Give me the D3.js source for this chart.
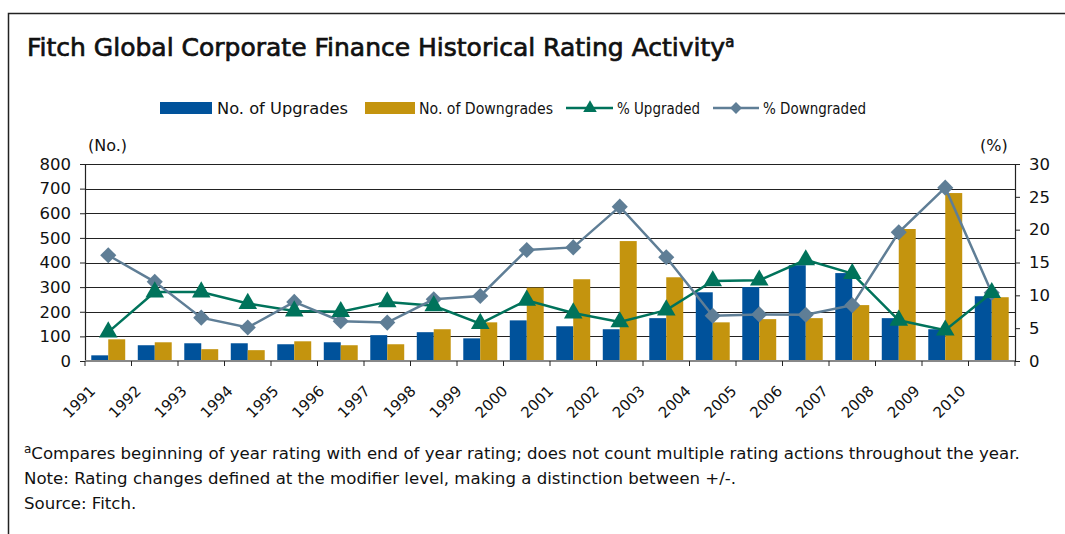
<!DOCTYPE html>
<html>
<head>
<meta charset="utf-8">
<script src="https://cdn.jsdelivr.net/npm/d3@7"></script>
<style>
  body { margin: 0; background: #fff; }
  svg text { font-family: "DejaVu Sans", sans-serif; fill: #111; }
</style>
</head>
<body>
<div id="graf"></div>
<script>
// Data
const years = ["1991", "1992", "1993", "1994", "1995", "1996", "1997", "1998", "1999", "2000",
  "2001", "2002", "2003", "2004", "2005", "2006", "2007", "2008", "2009", "2010"]
const upgrades = [23, 64, 72, 72, 68, 76, 105, 117, 92, 165, 141, 129, 174, 279, 300, 389, 357, 174, 129, 263]
const downgrades = [88, 76, 48, 44, 80, 64, 68, 129, 157, 298, 332, 487, 340, 157, 170, 174, 227, 536, 682, 259]
const pctUpgraded = [4.4, 10.5, 10.5, 8.75, 7.6, 7.5, 9.0, 8.4, 5.7, 9.25, 7.3, 5.95, 7.75, 12.2, 12.3, 15.4, 13.3, 6.2, 4.7, 10.4]
const pctDowngraded = [16.1, 12.05, 6.6, 5.1, 9.0, 6.05, 5.85, 9.4, 9.9, 16.9, 17.3, 23.5, 15.8, 6.9, 7.1, 7.05, 8.5, 19.6, 26.4, 10.4]
const leftTicks = [0, 100, 200, 300, 400, 500, 600, 700, 800]
const rightTicks = [0, 5, 10, 15, 20, 25, 30]

const colUp = "#00529b"
const colDown = "#c4940e"
const colPctUp = "#00735b"
const colPctDown = "#5f7e96"

const W = 1065, H = 534
const margins = { left: 85, top: 164, right: 50, bottom: 173 }
const ancho = W - margins.left - margins.right
const alto = H - margins.top - margins.bottom

const svg = d3.select("#graf").append("svg").attr("width", W).attr("height", H)

// frame
svg.append("path").attr("d", `M8.5,${H} V13.5 H${W}`)
  .attr("fill", "none").attr("stroke", "#222").attr("stroke-width", 1.5)

// title
const title = svg.append("text").attr("x", 27).attr("y", 56)
  .style("font-size", "25px").attr("stroke", "#111").attr("stroke-width", 0.7)
title.append("tspan").text("Fitch Global Corporate Finance Historical Rating Activity")
title.append("tspan").text("a").attr("dy", -9).style("font-size", "15px")

const g = svg.append("g").attr("transform", `translate(${margins.left}, ${margins.top})`)

// Scales
const x = d3.scaleBand().domain(years).range([0, ancho]).paddingInner(0.27).paddingOuter(0.135)
const xSub = d3.scaleBand().domain(["up", "down"]).range([0, x.bandwidth()])
const y = d3.scaleLinear().domain([0, 800]).range([alto, 0])
const y2 = d3.scaleLinear().domain([0, 30]).range([alto, 0])
const step = x.step()

// gridlines
g.append("g").selectAll("line").data(leftTicks.filter(d => d > 0)).join("line")
  .attr("x1", 0).attr("x2", ancho)
  .attr("y1", d => Math.round(y(d)) + 0.5).attr("y2", d => Math.round(y(d)) + 0.5)
  .attr("stroke", "#222").attr("stroke-width", 1)

// Axes
const yAxis = d3.axisLeft(y).tickValues(leftTicks).tickSize(5).tickPadding(9)
const yAxisGroup = g.append("g").attr("class", "ejes").call(yAxis)
const yAxis2 = d3.axisRight(y2).tickValues(rightTicks).tickSize(5).tickPadding(9)
const yAxisGroup2 = g.append("g").attr("class", "ejes")
  .attr("transform", `translate(${ancho}, 0)`).call(yAxis2)
for (const ax of [yAxisGroup, yAxisGroup2]) {
  ax.select(".domain").attr("stroke", "#222").attr("stroke-width", 1.2)
  ax.selectAll(".tick line").attr("stroke", "#222")
  ax.selectAll(".tick text").style("font-size", "16.5px").attr("fill", "#111")
    .style("font-family", "DejaVu Sans, sans-serif")
}

// Bars
g.append("g").selectAll("rect").data(years).join("rect")
  .attr("x", (d) => x(d) + xSub("up"))
  .attr("y", (d, i) => y(upgrades[i]))
  .attr("width", xSub.bandwidth())
  .attr("height", (d, i) => alto - y(upgrades[i]))
  .attr("fill", colUp)
g.append("g").selectAll("rect").data(years).join("rect")
  .attr("x", (d) => x(d) + xSub("down"))
  .attr("y", (d, i) => y(downgrades[i]))
  .attr("width", xSub.bandwidth())
  .attr("height", (d, i) => alto - y(downgrades[i]))
  .attr("fill", colDown)

// x baseline and ticks
g.append("line").attr("x1", 0).attr("x2", ancho).attr("y1", alto).attr("y2", alto)
  .attr("stroke", "#888").attr("stroke-width", 2)
g.append("g").selectAll("line").data(d3.range(years.length + 1)).join("line")
  .attr("x1", d => d * step).attr("x2", d => d * step)
  .attr("y1", alto).attr("y2", alto + 5).attr("stroke", "#222")

// x labels
g.append("g").selectAll("text").data(years).join("text")
  .attr("transform", (d, i) => `translate(${x(d) + x.bandwidth() / 2 - 12 - i * 0.7}, ${alto + 31}) rotate(-45)`)
  .attr("text-anchor", "end")
  .style("font-size", "15px")
  .text(d => d)

// Lines
const cx = (d) => x(d) + x.bandwidth() / 2
const lineUp = d3.line().x((d, i) => cx(years[i])).y(d => y2(d))
g.append("path").datum(pctUpgraded).attr("d", lineUp)
  .attr("fill", "none").attr("stroke", colPctUp).attr("stroke-width", 2.5)
g.append("path").datum(pctDowngraded).attr("d", lineUp)
  .attr("fill", "none").attr("stroke", colPctDown).attr("stroke-width", 2.5)

const tri = d3.symbol().type(d3.symbolTriangle).size(150)
const dia = d3.symbol().type(d3.symbolSquare).size(130)
g.append("g").selectAll("path").data(pctDowngraded).join("path")
  .attr("d", dia)
  .attr("transform", (d, i) => `translate(${cx(years[i])}, ${y2(d)}) rotate(45)`)
  .attr("fill", colPctDown)
g.append("g").selectAll("path").data(pctUpgraded).join("path")
  .attr("d", tri)
  .attr("transform", (d, i) => `translate(${cx(years[i])}, ${y2(d)})`)
  .attr("fill", colPctUp)

// axis titles
svg.append("text").attr("x", 88).attr("y", 151).style("font-size", "16px").text("(No.)")
svg.append("text").attr("x", 980).attr("y", 151).style("font-size", "16px").text("(%)")

// Legend
const leg = svg.append("g").style("font-size", "16px")
const legText = (x0, w, s) => leg.append("text").attr("x", x0).attr("y", 114)
  .attr("textLength", w).attr("lengthAdjust", "spacingAndGlyphs").text(s)
leg.append("rect").attr("x", 160).attr("y", 102).attr("width", 52).attr("height", 12).attr("fill", colUp)
legText(217, 131, "No. of Upgrades")
leg.append("rect").attr("x", 365).attr("y", 102).attr("width", 50).attr("height", 12).attr("fill", colDown)
legText(419, 134, "No. of Downgrades")
leg.append("line").attr("x1", 566).attr("x2", 613).attr("y1", 108).attr("y2", 108)
  .attr("stroke", colPctUp).attr("stroke-width", 2.5)
leg.append("path").attr("d", d3.symbol().type(d3.symbolTriangle).size(80))
  .attr("transform", "translate(590,108)").attr("fill", colPctUp)
legText(617, 83, "% Upgraded")
leg.append("line").attr("x1", 713).attr("x2", 759).attr("y1", 108).attr("y2", 108)
  .attr("stroke", colPctDown).attr("stroke-width", 2.5)
leg.append("path").attr("d", d3.symbol().type(d3.symbolSquare).size(70))
  .attr("transform", "translate(736,108) rotate(45)").attr("fill", colPctDown)
legText(763, 103, "% Downgraded")

// Footnotes
const notes = svg.append("g").style("font-size", "16.6px")
const n1 = notes.append("text").attr("x", 24).attr("y", 459)
n1.append("tspan").text("a").attr("dy", -6).style("font-size", "12px")
n1.append("tspan").text("Compares beginning of year rating with end of year rating; does not count multiple rating actions throughout the year.").attr("dy", 6)
notes.append("text").attr("x", 24).attr("y", 484).text("Note: Rating changes defined at the modifier level, making a distinction between +/-.")
notes.append("text").attr("x", 24).attr("y", 509).text("Source: Fitch.")
</script>
</body>
</html>
